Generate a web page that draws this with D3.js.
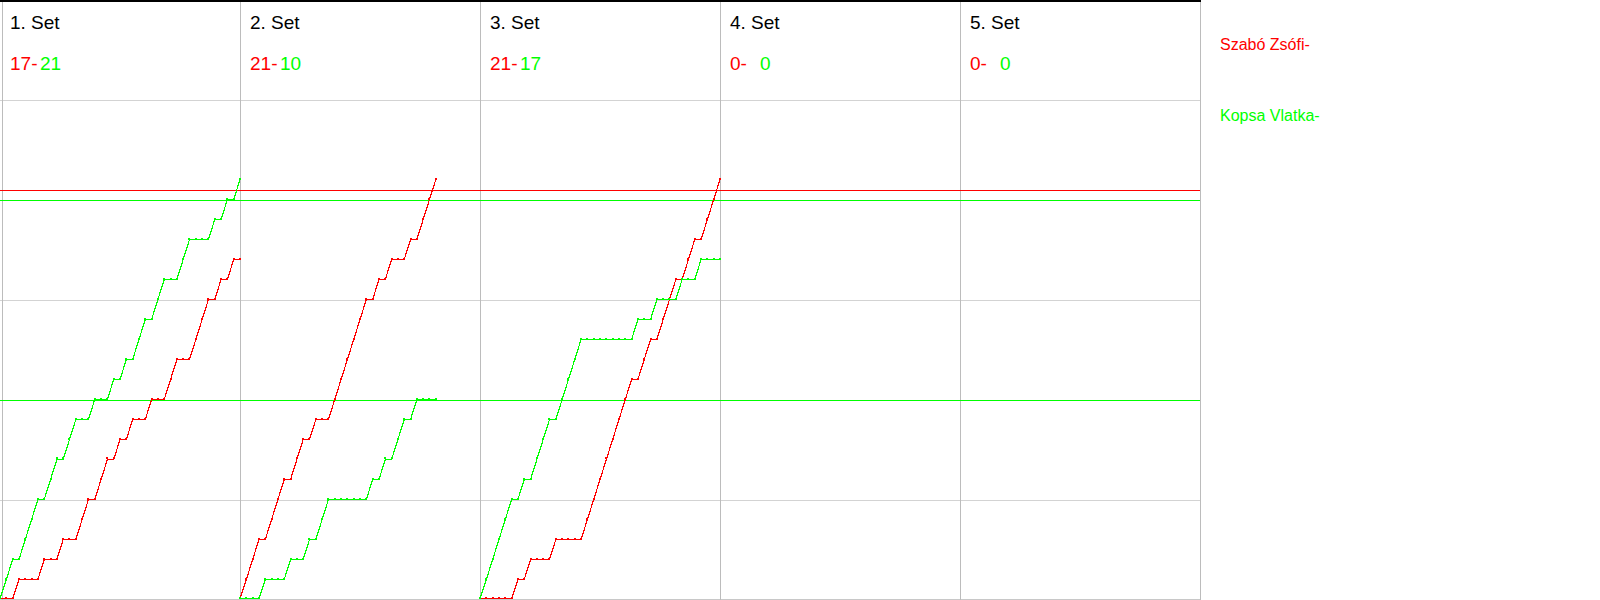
<!DOCTYPE html>
<html>
<head>
<meta charset="utf-8">
<script src="https://cdn.jsdelivr.net/npm/d3@7"></script>
<style>
  html, body { margin: 0; padding: 0; background: #fff; }
  svg { display: block; font-family: "Liberation Sans", Arial, sans-serif; }
</style>
</head>
<body>
<svg id="chart" width="1600" height="600"></svg>
<script>
// ---- data ----
const setTitles = ["1. Set", "2. Set", "3. Set", "4. Set", "5. Set"];
const playerNames = ["Szabó Zsófi-", "Kopsa Vlatka-"];

// cumulative score after each rally (index 0 = start of set)
const set1Red   = [0,0,0,1,1,1,1,2,2,2,3,3,3,4,5,5,6,7,7,8,8,9,9,9,10,10,10,11,12,12,12,13,14,15,15,16,16,17,17];
const set1Green = [0,1,2,2,3,4,5,5,6,7,7,8,9,9,9,10,10,10,11,11,12,12,13,14,14,15,16,16,16,17,18,18,18,18,19,19,20,20,21];
const set2Red   = [0,1,2,3,3,4,5,6,6,7,8,8,9,9,9,10,11,12,13,14,15,15,16,16,17,17,17,18,18,19,20,21];
const set2Green = [0,0,0,0,1,1,1,1,2,2,2,3,3,4,5,5,5,5,5,5,5,6,6,7,7,8,9,9,10,10,10,10];
const set3Red   = [0,0,0,0,0,0,1,1,2,2,2,2,3,3,3,3,3,4,5,6,7,8,9,10,11,11,12,13,13,14,15,16,16,17,18,18,19,20,21];
const set3Green = [0,1,2,3,4,5,5,6,6,7,8,9,9,10,11,12,13,13,13,13,13,13,13,13,13,14,14,14,15,15,15,15,16,16,16,17,17,17,17];
const set4Red = [], set4Green = [];
const set5Red = [], set5Green = [];

const redSeries   = [set1Red, set2Red, set3Red, set4Red, set5Red];
const greenSeries = [set1Green, set2Green, set3Green, set4Green, set5Green];

const gridValues = [5, 15, 25];
const redRefValues = [20.5];
const greenRefValues = [20, 10];
const scoreMax = 30;

// ---- layout ----
const RED = "#ff0000", GREEN = "#00ff00";
const svg = d3.select("#chart");
const plotW = 1200, plotH = 600;

const panel = d3.scaleBand().domain(d3.range(setTitles.length)).range([0, plotW]).padding(0);
const maxRallies = d3.max(redSeries, d => d.length - 1);
const xr = d3.scaleLinear().domain([0, maxRallies]).range([0, panel.bandwidth()]);
const y = d3.scaleLinear().domain([0, scoreMax]).range([plotH, 0]);
const py = v => Math.round(y(v)) + 0.5;

// horizontal grid
svg.append("g").selectAll("line").data(gridValues).join("line")
  .attr("x1", 0).attr("x2", plotW)
  .attr("y1", d => py(d)).attr("y2", d => py(d))
  .attr("stroke", "#d3d3d3").attr("stroke-width", 1).attr("shape-rendering", "crispEdges");

// bottom line
svg.append("line").attr("x1", 0).attr("x2", plotW + 1)
  .attr("y1", plotH - 0.5).attr("y2", plotH - 0.5)
  .attr("stroke", "#c8c8c8").attr("shape-rendering", "crispEdges");

// vertical panel separators
const sepXs = d3.range(setTitles.length + 1).map(i => i === 0 ? 2.5 : panel.step() * i + 0.5);
svg.append("g").selectAll("line").data(sepXs).join("line")
  .attr("x1", d => d).attr("x2", d => d)
  .attr("y1", 0).attr("y2", plotH)
  .attr("stroke", "#bcbcbc").attr("stroke-width", 1).attr("shape-rendering", "crispEdges");

// top black line
svg.append("rect").attr("x", 0).attr("y", 0).attr("width", plotW + 1).attr("height", 2).attr("fill", "#000");

// reference lines
svg.append("g").selectAll("line").data(redRefValues).join("line")
  .attr("x1", 0).attr("x2", plotW)
  .attr("y1", d => py(d)).attr("y2", d => py(d))
  .attr("stroke", RED).attr("shape-rendering", "crispEdges");
svg.append("g").selectAll("line").data(greenRefValues).join("line")
  .attr("x1", 0).attr("x2", plotW)
  .attr("y1", d => py(d)).attr("y2", d => py(d))
  .attr("stroke", GREEN).attr("shape-rendering", "crispEdges");

// panels
setTitles.forEach((title, i) => {
  const g = svg.append("g").attr("transform", `translate(${panel(i)},0)`);
  const reds = redSeries[i], greens = greenSeries[i];
  const redFinal = reds.length ? reds[reds.length - 1] : 0;
  const greenFinal = greens.length ? greens[greens.length - 1] : 0;

  g.append("text").attr("x", 10).attr("y", 29).attr("font-size", 19).attr("fill", "#000").text(title);
  g.append("text").attr("x", 10).attr("y", 70).attr("font-size", 19).attr("fill", RED).text(redFinal + "-");
  g.append("text").attr("x", 40).attr("y", 70).attr("font-size", 19).attr("fill", GREEN).text(greenFinal);

  const line = d3.line().x((d, k) => xr(k)).y(d => Math.min(y(d) - 0.5, plotH - 1.5));
  [[reds, RED], [greens, GREEN]].forEach(([data, col]) => {
    if (!data.length) return;
    g.append("path").datum(data).attr("d", line)
      .attr("fill", "none").attr("stroke", col).attr("stroke-width", 1.2)
      .attr("shape-rendering", "crispEdges");
    g.append("g").selectAll("rect").data(data).join("rect")
      .attr("x", (d, k) => Math.round(xr(k)) - 1)
      .attr("y", d => Math.round(Math.min(y(d) - 0.5, plotH - 1.5)) - 2)
      .attr("width", 2).attr("height", 2)
      .attr("fill", col).attr("shape-rendering", "crispEdges");
  });
});

// legend
svg.append("g").selectAll("text").data(playerNames).join("text")
  .attr("x", 1220).attr("y", (d, i) => 50 + i * 70.5)
  .attr("font-size", 16).attr("fill", (d, i) => i === 0 ? RED : GREEN)
  .text(d => d);
</script>
</body>
</html>
